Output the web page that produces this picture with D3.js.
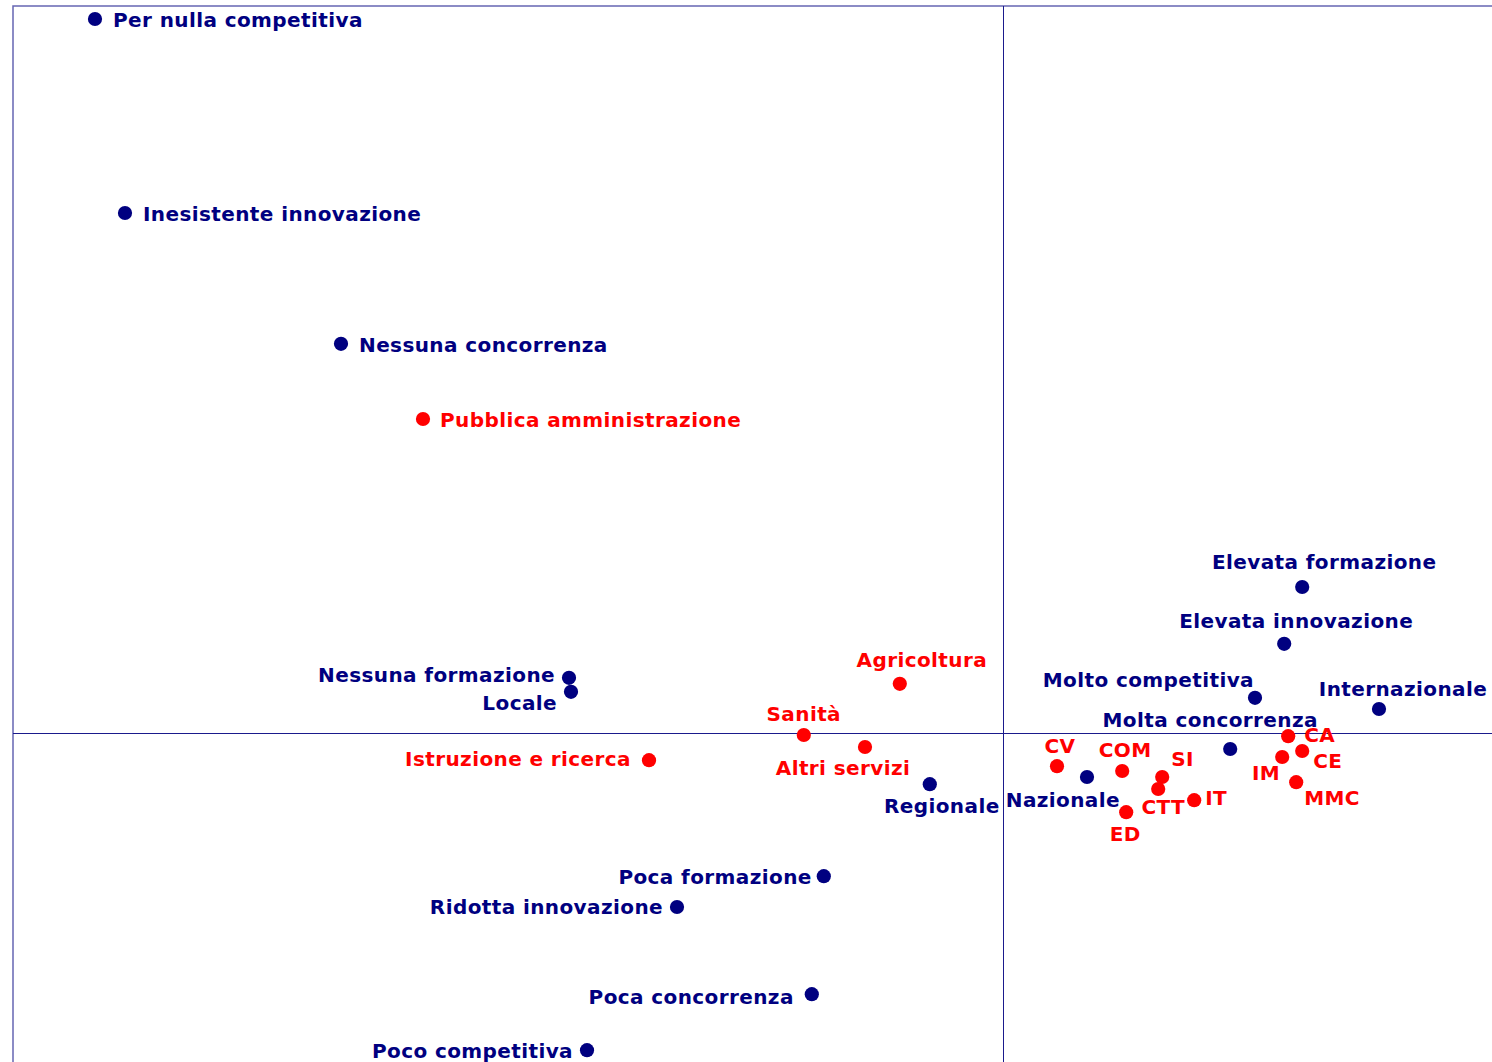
<!DOCTYPE html>
<html>
<head>
<meta charset="utf-8">
<script src="https://cdn.jsdelivr.net/npm/d3@7"></script>
<style>
  html, body { margin: 0; padding: 0; background: #fff; overflow: hidden; }
  svg { display: block; }
  text { font-family: "DejaVu Sans", Verdana, sans-serif; font-weight: bold; font-size: 20px; }
</style>
</head>
<body>
<svg id="chart" width="1492" height="1062"></svg>
<script>
// Modalità (variabili attive) – navy
const modLabels = ["Per nulla competitiva", "Inesistente innovazione", "Nessuna concorrenza",
  "Nessuna formazione", "Locale", "Regionale", "Poca formazione", "Ridotta innovazione",
  "Poca concorrenza", "Poco competitiva", "Elevata formazione", "Elevata innovazione",
  "Molto competitiva", "Internazionale", "Molta concorrenza", "Nazionale"];
const modDim1 = [-2.270, -2.195, -1.655, -1.085, -1.080, -0.183, -0.448, -0.815,
  -0.478, -1.040, 0.748, 0.703, 0.630, 0.940, 0.568, 0.210];
const modDim2 = [1.785, 1.300, 0.973, 0.138, 0.103, -0.128, -0.358, -0.435,
  -0.653, -0.793, 0.365, 0.223, 0.088, 0.060, -0.040, -0.110];

// Settori (variabile supplementare) – rosso
const secLabels = ["Pubblica amministrazione", "Agricoltura", "Sanità", "Altri servizi",
  "Istruzione e ricerca", "CV", "COM", "SI", "CTT", "ED", "IT", "CA", "CE", "IM", "MMC"];
const secDim1 = [-1.450, -0.258, -0.498, -0.345, -0.885, 0.135, 0.298, 0.398, 0.388,
  0.308, 0.478, 0.713, 0.748, 0.698, 0.733];
const secDim2 = [0.785, 0.123, -0.005, -0.035, -0.068, -0.083, -0.095, -0.110, -0.140,
  -0.198, -0.168, -0.008, -0.045, -0.060, -0.123];

// Label placement (layout config): [anchor, dx, dy]
const labelPlacement = {
  "Per nulla competitiva": ["start", 18, 1],
  "Inesistente innovazione": ["start", 18, 1],
  "Nessuna concorrenza": ["start", 18, 1],
  "Nessuna formazione": ["end", -14, -3],
  "Locale": ["end", -14, 11],
  "Regionale": ["middle", 12, 22],
  "Poca formazione": ["end", -12, 1],
  "Ridotta innovazione": ["end", -14, 0],
  "Poca concorrenza": ["end", -18, 3],
  "Poco competitiva": ["end", -14, 1],
  "Elevata formazione": ["middle", 22, -25],
  "Elevata innovazione": ["middle", 12, -23],
  "Molto competitiva": ["end", -1, -18],
  "Internazionale": ["middle", 24, -20],
  "Molta concorrenza": ["middle", -20, -29],
  "Nazionale": ["end", 33, 23],
  "Pubblica amministrazione": ["start", 17, 1],
  "Agricoltura": ["middle", 22, -24],
  "Sanità": ["middle", 0, -21],
  "Altri servizi": ["middle", -22, 21],
  "Istruzione e ricerca": ["end", -18, -1],
  "CV": ["middle", 3, -20],
  "COM": ["middle", 3, -21],
  "SI": ["start", 9, -18],
  "CTT": ["middle", 5, 18],
  "ED": ["middle", -1, 22],
  "IT": ["start", 11, -2],
  "CA": ["start", 16, -1],
  "CE": ["start", 11, 10],
  "IM": ["end", -2, 16],
  "MMC": ["start", 8, 16]
};

const W = 1492, H = 1062;
const svg = d3.select("#chart");

const x = d3.scaleLinear().domain([-2.475, 1.2225]).range([13, 1492]);
const y = d3.scaleLinear().domain([-0.8225, 1.8175]).range([1062, 6]);

const navy = "#000080", red = "#ff0000";

// frame
svg.append("rect")
  .attr("x", x(-2.475)).attr("y", y(1.8175))
  .attr("width", 1600).attr("height", 1200)
  .attr("fill", "none").attr("stroke", "#6666b3").attr("stroke-width", 1.5);

// axes through origin
svg.append("line")
  .attr("x1", x(-2.475)).attr("x2", W)
  .attr("y1", Math.round(y(0)) + 0.5).attr("y2", Math.round(y(0)) + 0.5)
  .attr("stroke", "#1a1a8c").attr("stroke-width", 1);
svg.append("line")
  .attr("x1", Math.round(x(0)) + 0.5).attr("x2", Math.round(x(0)) + 0.5)
  .attr("y1", y(1.8175)).attr("y2", H)
  .attr("stroke", "#1a1a8c").attr("stroke-width", 1);

function drawSet(labels, d1, d2, color) {
  const data = labels.map((l, i) => ({ label: l, a: d1[i], b: d2[i] }));
  const g = svg.append("g");
  g.selectAll("circle").data(data).join("circle")
    .attr("cx", d => x(d.a)).attr("cy", d => y(d.b))
    .attr("r", 7.1).attr("fill", color);
  g.selectAll("text").data(data).join("text")
    .attr("x", d => x(d.a) + labelPlacement[d.label][1])
    .attr("y", d => y(d.b) + labelPlacement[d.label][2])
    .attr("text-anchor", d => labelPlacement[d.label][0])
    .attr("dominant-baseline", "central")
    .attr("fill", color)
    .attr("letter-spacing", "0.4px")
    .text(d => d.label);
}

drawSet(modLabels, modDim1, modDim2, navy);
drawSet(secLabels, secDim1, secDim2, red);
</script>
</body>
</html>
